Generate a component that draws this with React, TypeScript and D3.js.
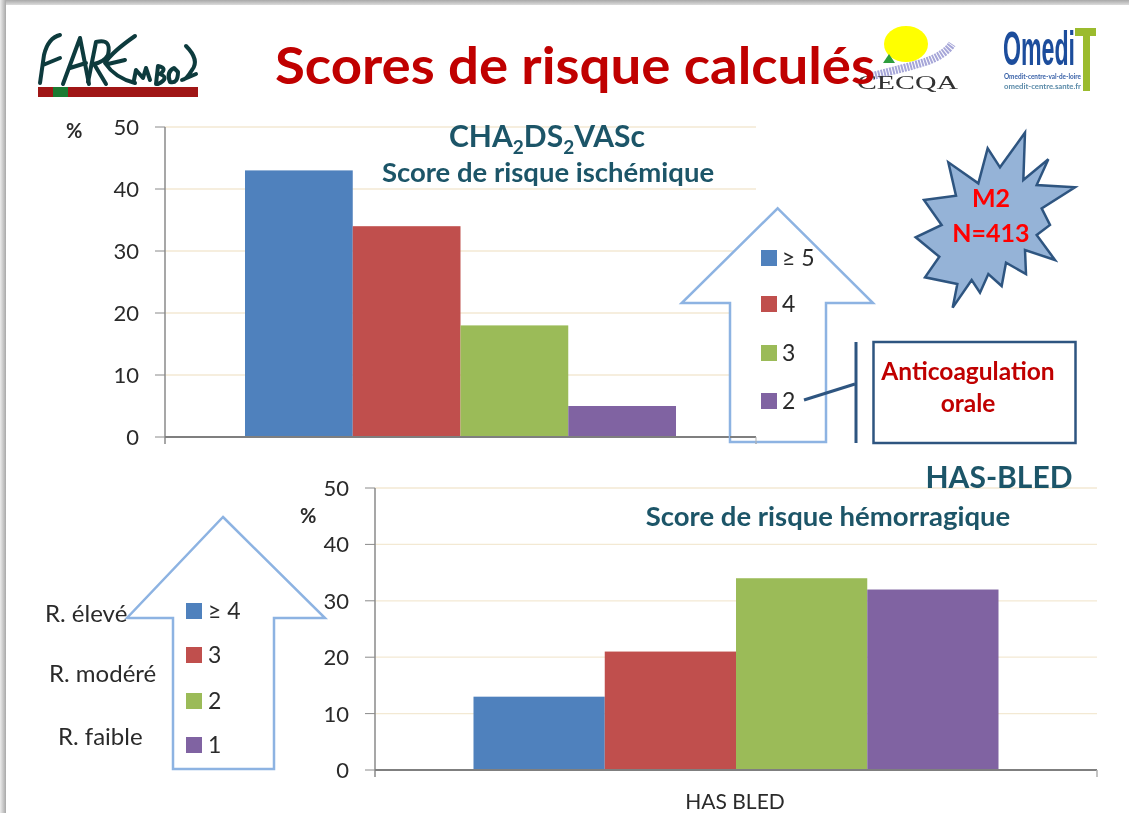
import React from "react";
import * as d3 from "d3";

const topSeries = ["≥ 5", "4", "3", "2"];
const topValues = [43, 34, 18, 5];
const bottomSeries = ["≥ 4", "3", "2", "1"];
const bottomValues = [13, 21, 34, 32];
const yTicks = [0, 10, 20, 30, 40, 50];
const colors = ["#4F81BD", "#C0504D", "#9BBB59", "#8064A2"];
const riskLabels = ["R. élevé", "R. modéré", "R. faible"];

const FONT = "Lato, Carlito, sans-serif";
const TEAL = "#1d5568";
const NAVY = "#2f5580";
const ARROW = "#8db3e2";
const TICK = "#2b2b2b";

const starPts = [[1065,8],[1060,150],[1135,88],[1100,165],[1215,172],[1115,235],[1140,285],[1100,315],[1155,390],[1065,360],[1068,432],[1008,398],[995,468],[955,432],[930,488],[905,450],[848,533],[862,462],[765,442],[808,380],[737,322],[815,285],[762,210],[858,197],[835,97],[925,160],[953,55],[990,112]]
  .map(([x, y]) => [x / 3 + 670, y / 3 + 130]);

function Bars({ values, series, x0, x1, y0, y1, pad, tickFont, labelX }: any) {
  const y = d3.scaleLinear().domain([0, 50]).range([y0, y1]);
  const group = d3.scaleBand().domain(["g"]).range([x0, x1]).paddingOuter(pad).paddingInner(0);
  const x = d3.scaleBand().domain(series as string[]).range([group("g")!, group("g")! + group.bandwidth()]);
  return (
    <g>
      {yTicks.filter(t => t > 0).map(t => (
        <line key={t} x1={x0} x2={x1} y1={y(t)} y2={y(t)} stroke="#f3e9d3" strokeWidth={1.3} />
      ))}
      {series.map((s: string, i: number) => (
        <rect key={s} x={x(s)} width={x.bandwidth()} y={y(values[i])} height={y0 - y(values[i])} fill={colors[i]} />
      ))}
      <line x1={x0} x2={x0} y1={y1} y2={y0 + 7} stroke="#8a8a8a" strokeWidth={1.5} />
      <line x1={x0} x2={x1} y1={y0} y2={y0} stroke="#7f7f7f" strokeWidth={2} />
      <line x1={x1} x2={x1} y1={y0} y2={y0 + 7} stroke="#b0b0b0" strokeWidth={1.5} />
      {yTicks.map(t => (
        <g key={t}>
          <line x1={x0 - 10} x2={x0} y1={y(t)} y2={y(t)} stroke="#8a8a8a" strokeWidth={1} />
          <text x={labelX} y={y(t) + tickFont * 0.36} textAnchor="end" fontSize={tickFont} fill={TICK}>{t}</text>
        </g>
      ))}
    </g>
  );
}

function Legend({ series, x, ys, size, font, textX }: any) {
  return (
    <g>
      {series.map((s: string, i: number) => (
        <g key={s}>
          <rect x={x} y={ys[i]} width={size} height={size} fill={colors[i]} />
          <text x={textX} y={ys[i] + size / 2 + font * 0.35} fontSize={font} fill={TICK}>{s}</text>
        </g>
      ))}
    </g>
  );
}

export default function App() {
  return (
    <svg width={1129} height={813} viewBox="0 0 1129 813" fontFamily={FONT}
      style={{ position: "fixed", left: 0, top: 0, display: "block" }}>
      <defs>
        <linearGradient id="shTop" x1="0" y1="0" x2="0" y2="1">
          <stop offset="0" stopColor="#a8a8a8" /><stop offset="1" stopColor="#dcdcdc" />
        </linearGradient>
        <linearGradient id="shLeft" x1="0" y1="0" x2="1" y2="0">
          <stop offset="0" stopColor="#ececec" /><stop offset="1" stopColor="#a8a8a8" />
        </linearGradient>
        <filter id="soft" x="-2%" y="-2%" width="104%" height="104%"><feGaussianBlur stdDeviation="0.4" /></filter>
      </defs>
      <rect width={1129} height={813} fill="#fff" />
      <rect width={1129} height={5} fill="url(#shTop)" />
      <rect width={6} height={813} fill="url(#shLeft)" />

      <g filter="url(#soft)">
        {/* FAREMBOL logo */}
        <g fill="none" stroke="#0f3a3e" strokeWidth={4} strokeLinecap="round" strokeLinejoin="round">
          <path d="M60 35 Q48 38 44 55 L40 83 M43 65 L60 58" />
          <path d="M63 84 L80 38 L89 84 M70 68 L86 63" />
          <path d="M88 82 L96 42 Q112 38 108 55 Q104 62 94 64 L106 84" />
          <path d="M135 36 Q112 52 105 63 Q115 78 135 83 M108 64 L125 60" />
          <path d="M134 80 L136 70 L143 78 L146 68 L150 80" />
          <path d="M156 84 L158 66 Q168 68 160 74 Q170 78 158 84" />
          <path d="M174 68 Q166 72 170 82 Q178 84 178 72 Z" />
          <path d="M186 46 Q200 60 192 70 Q186 80 182 80 L196 74" />
        </g>
        <rect x={38} y={87} width={160} height={10} fill="#a01212" />
        <rect x={53} y={87} width={15} height={10} fill="#1f7a33" />

        {/* CECQA logo */}
        <ellipse cx={906} cy={44} rx={22} ry={18} fill="#ffff00" />
        <path d="M883 63 L889 54 L895 63 Z" fill="#2e9e3e" />
        <path d="M872 76 Q905 68 925 62 Q945 55 952 44" fill="none" stroke="#a6a6d8" strokeWidth={8} strokeDasharray="2 1" />
        <text x={857} y={89} fontFamily="'Liberation Serif', serif" fontSize={19} fill="#333" textLength={101} lengthAdjust="spacingAndGlyphs">CECQA</text>

        {/* Title */}
        <text x={275} y={84} fontSize={52} fontWeight={700} fill="#c00000" textLength={600} lengthAdjust="spacingAndGlyphs">Scores de risque calculés</text>

        {/* OMEDIT logo */}
        <text x={1003} y={65} fontSize={48} fontFamily="'Liberation Sans Narrow', 'Liberation Sans', sans-serif" fontWeight={700} fill="#1f4e9c" textLength={72} lengthAdjust="spacingAndGlyphs">Omedi</text>
        <path d="M1075 28 H1096 V36 H1090 V91 H1083 V36 H1075 Z" fill="#9bbb2f" />
        <text x={1004} y={79} fontSize={7} fontWeight={700} fill="#3a62a8" textLength={77} lengthAdjust="spacingAndGlyphs">Omedit-centre-val-de-loire</text>
        <text x={1004} y={89} fontSize={7} fontWeight={700} fill="#5a8aa8" textLength={77} lengthAdjust="spacingAndGlyphs">omedit-centre.sante.fr</text>

        {/* Top chart */}
        <Bars values={topValues} series={topSeries} x0={165} x1={756} y0={437} y1={127} pad={0.1856} tickFont={22} labelX={139} />
        <text x={66} y={138} fontSize={20} fontWeight={700} fill={TICK}>%</text>
        <text x={547} y={147} textAnchor="middle" fontSize={30} fontWeight={700} fill={TEAL}>
          CHA<tspan dy={7} fontSize={19}>2</tspan><tspan dy={-7}>DS</tspan><tspan dy={7} fontSize={19}>2</tspan><tspan dy={-7}>VASc</tspan>
        </text>
        <text x={548} y={182} textAnchor="middle" fontSize={27.5} fontWeight={700} fill={TEAL}>Score de risque ischémique</text>

        <polygon points="777.7,208.3 873,303 826,303 826,442 730,442 730,303 681.7,303" fill="#fff" stroke={ARROW} strokeWidth={2.5} />
        <line x1={730} x2={756} y1={437} y2={437} stroke="#7f7f7f" strokeWidth={2} />
        <line x1={756} x2={756} y1={437} y2={444} stroke="#b0b0b0" strokeWidth={1} />
        <Legend series={topSeries} x={761} ys={[250, 296, 345, 393]} size={16} font={23} textX={782} />

        <polygon points={starPts.map(p => p.join(",")).join(" ")} fill="#95b3d7" stroke={NAVY} strokeWidth={2.5} />
        <text x={991} y={207} textAnchor="middle" fontSize={25} fill="#ff0000" fontWeight={700}>M2</text>
        <text x={991} y={242} textAnchor="middle" fontSize={25} fill="#ff0000" fontWeight={700}>N=413</text>

        <line x1={856} x2={856} y1={342} y2={443} stroke={NAVY} strokeWidth={3} />
        <line x1={804} x2={855} y1={400} y2={384} stroke={NAVY} strokeWidth={3} />
        <rect x={873.5} y={342} width={202} height={101} fill="#fff" stroke={NAVY} strokeWidth={2.5} />
        <text x={968} y={380} textAnchor="middle" fontSize={24.5} fontWeight={700} fill="#c00000">Anticoagulation</text>
        <text x={968} y={412} textAnchor="middle" fontSize={24.5} fontWeight={700} fill="#c00000">orale</text>

        {/* Bottom chart */}
        <Bars values={bottomValues} series={bottomSeries} x0={375} x1={1097} y0={770} y1={488} pad={0.1876} tickFont={22} labelX={349} />
        <text x={300} y={523} fontSize={20} fontWeight={700} fill={TICK}>%</text>
        <text x={999} y={488} textAnchor="middle" fontSize={30} fontWeight={700} fill={TEAL}>HAS-BLED</text>
        <text x={828} y={526} textAnchor="middle" fontSize={27.5} fontWeight={700} fill={TEAL}>Score de risque hémorragique</text>
        <text x={735} y={808.5} textAnchor="middle" fontSize={21} fill={TICK}>HAS BLED</text>

        <polygon points="223,517 325,618 274,618 274,769 173,769 173,618 127,618" fill="none" stroke={ARROW} strokeWidth={2.5} />
        <Legend series={bottomSeries} x={186} ys={[603, 647, 693, 737]} size={16} font={23} textX={208} />
        <text x={45} y={622} fontSize={24} fill={TICK}>{riskLabels[0]}</text>
        <text x={49} y={682} fontSize={24} fill={TICK}>{riskLabels[1]}</text>
        <text x={58} y={745} fontSize={24} fill={TICK}>{riskLabels[2]}</text>
      </g>
    </svg>
  );
}
